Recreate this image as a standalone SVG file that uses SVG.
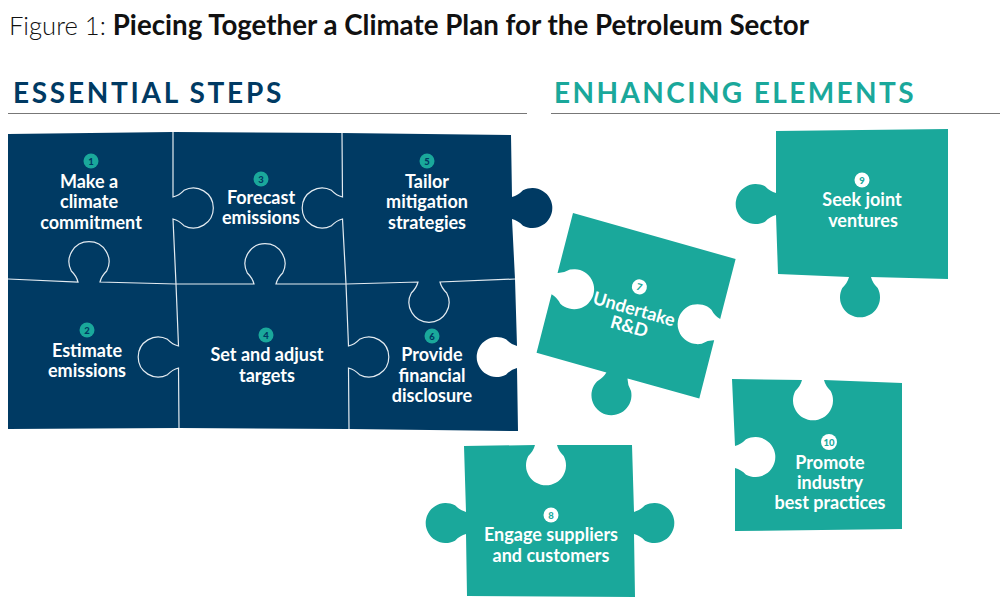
<svg xmlns="http://www.w3.org/2000/svg" width="1000" height="604" viewBox="0 0 1000 604">
<style>
text{font-family:"Lato","Noto Sans","Liberation Sans",sans-serif}
.t{font-size:25.6px;fill:#111}
.h{font-size:28px;font-weight:700;letter-spacing:2.7px}
.l{font-size:18px;font-weight:700;fill:#fff;text-anchor:middle}
.n{font-size:9.5px;font-weight:900;text-anchor:middle}
.dk{fill:#003a63}
.tl{fill:#1aa89b}
.seam{fill:none;stroke:#e3ebf1;stroke-width:1.2}
.rule{stroke:#777;stroke-width:1}
</style>
<text class="t" x="9" y="35" font-weight="300">Figure 1: <tspan font-weight="700" font-size="27.7">Piecing Together a Climate Plan for the Petroleum Sector</tspan></text>
<text class="h" x="13" y="103" fill="#003a63">ESSENTIAL STEPS</text>
<text class="h" x="554" y="103" fill="#1aa89b" style="letter-spacing:2.4px">ENHANCING ELEMENTS</text>
<line class="rule" x1="8" y1="113.5" x2="527" y2="113.5"/>
<line class="rule" x1="551" y1="113.5" x2="1000" y2="113.5"/>

<g id="essential-block">
<path class="dk" d="M8,134L173,132L342,133L511,135L512,197q6,-1.5 11,-6.7a20,20 0 1 1 0,35.4q-5,-5.2 -11,-6.7L515,279L517,346q-6,-1.5 -11,-6.7a20,20 0 1 0 0,35.4q5,-5.2 11,-6.7L518,431L349,429L179,428L8,429Z"/>
</g>
<g id="connectors">
<path class="seam" d="M173,132L173,197q6,-1.5 11,-6.7a20,20 0 1 1 0,35.4q-5,-5.2 -11,-6.7L176,284L178.5,346q-6,-1.5 -11,-6.7a20,20 0 1 0 0,35.4q5,-5.2 11,-6.7L179,428"/>
<path class="seam" d="M342,133L342.5,197q-6,-1.5 -11,-6.7a20,20 0 1 0 0,35.4q5,-5.2 11,-6.7L346,284L348.5,346q6,-1.5 11,-6.7a20,20 0 1 1 0,35.4q-5,-5.2 -11,-6.7L349,429"/>
<path class="seam" d="M8,279L78,282q-1.5,-6 -6.7,-11a20,20 0 1 1 35.4,0q-5.2,5 -6.7,11L176,284L254,284q-1.5,-6 -6.7,-11a20,20 0 1 1 35.4,0q-5.2,5 -6.7,11L346,284L418,282q-1.5,6 -6.7,11a20,20 0 1 0 35.4,0q-5.2,-5 -6.7,-11L515,279"/>
</g>

<g id="step-1"><circle class="tl" cx="91" cy="161" r="7.5"/><text class="n dk" x="91" y="164.5">1</text>
<text class="l" x="89" y="188">Make a</text><text class="l" x="89" y="208">climate</text><text class="l" x="91" y="229">commitment</text></g>
<g id="step-2"><circle class="tl" cx="87" cy="330" r="7.5"/><text class="n dk" x="87" y="333.5">2</text>
<text class="l" x="87" y="357">Estimate</text><text class="l" x="87" y="377">emissions</text></g>
<g id="step-3"><circle class="tl" cx="261" cy="179" r="7.5"/><text class="n dk" x="261" y="182.5">3</text>
<text class="l" x="261" y="204">Forecast</text><text class="l" x="261" y="224">emissions</text></g>
<g id="step-4"><circle class="tl" cx="266" cy="335" r="7.5"/><text class="n dk" x="266" y="338.5">4</text>
<text class="l" x="267" y="361">Set and adjust</text><text class="l" x="267" y="382">targets</text></g>
<g id="step-5"><circle class="tl" cx="427" cy="161" r="7.5"/><text class="n dk" x="427" y="164.5">5</text>
<text class="l" x="427" y="188">Tailor</text><text class="l" x="427" y="208">mitigation</text><text class="l" x="427" y="229">strategies</text></g>
<g id="step-6"><circle class="tl" cx="432" cy="336" r="7.5"/><text class="n dk" x="432" y="339.5">6</text>
<text class="l" x="432" y="361">Provide</text><text class="l" x="432" y="382">financial</text><text class="l" x="432" y="402">disclosure</text></g>

<g id="step-7" transform="translate(573,213) rotate(15.8)">
<path class="tl" d="M0,0L169,0L170.5,62q-6,-1.5 -11,-6.7a20,20 0 1 0 0,35.4q5,-5.2 11,-6.7L172,144L97.6,144.5q1.5,6 6.7,11a20,20 0 1 1 -35.4,0q5.2,-5 6.7,-11L3,144.5L1.5,84q6,1.5 11,6.7a20,20 0 1 0 0,-35.4q-5,5.2 -11,6.7Z"/>
<circle cx="84" cy="53" r="7.5" fill="#fff"/><text class="n tl" x="84" y="56.5">7</text>
<text class="l" x="85" y="82">Undertake</text><text class="l" x="85" y="100">R&amp;D</text></g>

<g id="step-8"><path class="tl" d="M464,446L535,445q-1.5,6 -6.7,11a20,20 0 1 0 35.4,0q-5.2,-5 -6.7,-11L632,445L634,512q6,-1.5 11,-6.7a20,20 0 1 1 0,35.4q-5,-5.2 -11,-6.7L635,597L467,596L466,534q-6,1.5 -11,6.7a20,20 0 1 1 0,-35.4q5,5.2 11,6.7Z"/>
<circle cx="551" cy="515" r="7.5" fill="#fff"/><text class="n tl" x="551" y="518.5">8</text>
<text class="l" x="551" y="541">Engage suppliers</text><text class="l" x="551" y="562">and customers</text></g>

<g id="step-9"><path class="tl" d="M776,131L948,129L948,279L871,277q1.5,6 6.7,11a20,20 0 1 1 -35.4,0q5.2,-5 6.7,-11L778,274L776,215q-6,1.5 -11,6.7a20,20 0 1 1 0,-35.4q5,5.2 11,6.7Z"/>
<circle cx="862" cy="180" r="7.5" fill="#fff"/><text class="n tl" x="862" y="183.5">9</text>
<text class="l" x="862" y="206">Seek joint</text><text class="l" x="863" y="227">ventures</text></g>

<g id="step-10"><path class="tl" d="M732,379L802,380q-1.5,6 -6.7,11a20,20 0 1 0 35.4,0q-5.2,-5 -6.7,-11L902,383L902,529L735,531L735,468q6,1.5 11,6.7a20,20 0 1 0 0,-35.4q-5,5.2 -11,6.7Z"/>
<circle cx="829" cy="442" r="8" fill="#fff"/><text class="n tl" x="829" y="445.5">10</text>
<text class="l" x="830" y="469">Promote</text><text class="l" x="830" y="489">industry</text><text class="l" x="830" y="509">best practices</text></g>
</svg>
